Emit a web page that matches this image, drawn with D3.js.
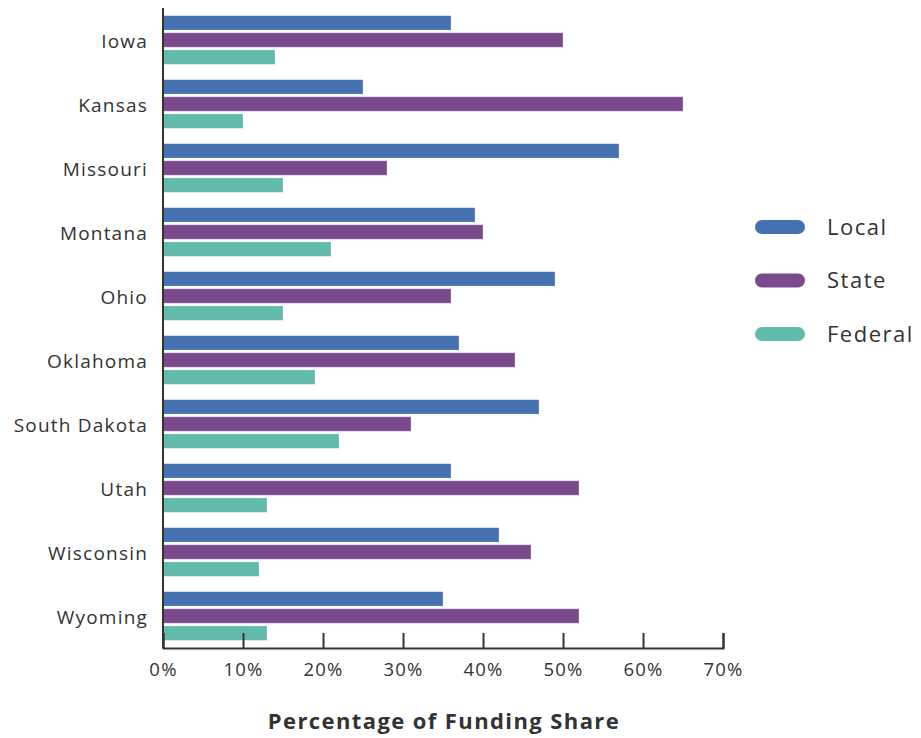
<!DOCTYPE html>
<html lang="en">
<head>
<meta charset="utf-8">
<title>Percentage of Funding Share</title>
<style>
  body { margin: 0; background: #fff; }
  text { font-family: "Open Sans", "DejaVu Sans", sans-serif; fill: #333; }
</style>
</head>
<body>
<script src="https://cdn.jsdelivr.net/npm/d3@7"></script>
<script>
  // data (percent)
  var states = ["Iowa", "Kansas", "Missouri", "Montana", "Ohio", "Oklahoma", "South Dakota", "Utah", "Wisconsin", "Wyoming"];
  var seriesNames = ["Local", "State", "Federal"];
  var localShare   = [36, 25, 57, 39, 49, 37, 47, 36, 42, 35];
  var stateShare   = [50, 65, 28, 40, 36, 44, 31, 52, 46, 52];
  var federalShare = [14, 10, 15, 21, 15, 19, 22, 13, 12, 13];
  var tickValues = [0, 10, 20, 30, 40, 50, 60, 70];

  var colors = ["#4571b1", "#7a4a8c", "#62baac"];

  var w = 921, h = 738;
  var margin = {top: 8, right: 198, bottom: 90, left: 163};

  var svg = d3.select("body").append("svg").attr("width", w).attr("height", h);

  var x = d3.scaleLinear().domain([0, 70]).range([margin.left, margin.left + 560]);
  var y = d3.scaleBand().domain(states).range([margin.top, h - margin.bottom])
      .paddingInner(0.24).paddingOuter(0.12);
  var sub = d3.scaleBand().domain(seriesNames).range([0, y.bandwidth()]).paddingInner(0.16);
  var color = d3.scaleOrdinal().domain(seriesNames).range(colors);

  var rows = states.map(function(s, i) {
    return {state: s, values: [
      {key: "Local", value: localShare[i]},
      {key: "State", value: stateShare[i]},
      {key: "Federal", value: federalShare[i]}
    ]};
  });

  // bars
  var groups = svg.append("g").selectAll("g")
    .data(rows).enter().append("g")
    .attr("transform", function(d) { return "translate(0," + y(d.state) + ")"; });

  groups.selectAll("rect")
    .data(function(d) { return d.values; })
    .enter().append("rect")
    .attr("x", x(0))
    .attr("y", function(d) { return sub(d.key); })
    .attr("width", function(d) { return x(d.value) - x(0); })
    .attr("height", sub.bandwidth())
    .attr("fill", function(d) { return color(d.key); })
    .attr("stroke", "#fff")
    .attr("stroke-opacity", 0.35)
    .attr("stroke-width", 0.8);

  // x axis (ticks point up)
  var axisY = h - margin.bottom;
  var xAxis = svg.append("g")
    .attr("transform", "translate(0," + axisY + ")")
    .call(d3.axisBottom(x).tickValues(tickValues).tickSize(-15).tickPadding(15)
      .tickFormat(function(d) { return d + "%"; }));
  xAxis.select(".domain").attr("stroke", "#333").attr("stroke-width", 2);
  xAxis.selectAll(".tick line").attr("stroke", "#333").attr("stroke-width", 2);
  xAxis.selectAll(".tick text").attr("font-size", 18.5).attr("fill", "#333")
    .attr("letter-spacing", 1.2)
    .style("font-family", "'Open Sans', sans-serif");

  // y axis
  var yAxis = svg.append("g")
    .attr("transform", "translate(" + margin.left + ",0)")
    .call(d3.axisLeft(y).tickSize(0).tickPadding(15));
  yAxis.select(".domain").attr("stroke", "#333").attr("stroke-width", 2)
    .attr("d", "M0," + margin.top + "V" + axisY);
  yAxis.selectAll(".tick text").attr("font-size", 19).attr("fill", "#333")
    .attr("letter-spacing", 1.2).attr("dy", "0.42em")
    .style("font-family", "'Open Sans', sans-serif");

  // axis title
  svg.append("text")
    .attr("x", 444).attr("y", 729)
    .attr("text-anchor", "middle")
    .attr("font-size", 22).attr("font-weight", "bold")
    .attr("letter-spacing", 1.4)
    .text("Percentage of Funding Share");

  // legend
  var legend = svg.append("g").selectAll("g")
    .data(seriesNames).enter().append("g")
    .attr("transform", function(d, i) { return "translate(755," + (227 + i * 53.5) + ")"; });
  legend.append("rect")
    .attr("x", 0).attr("y", -7).attr("width", 50).attr("height", 14)
    .attr("rx", 7)
    .attr("fill", function(d) { return color(d); });
  legend.append("text")
    .attr("x", 72).attr("y", 0).attr("dy", "0.35em")
    .attr("font-size", 22).attr("letter-spacing", 1.5)
    .text(function(d) { return d; });
</script>
</body>
</html>
